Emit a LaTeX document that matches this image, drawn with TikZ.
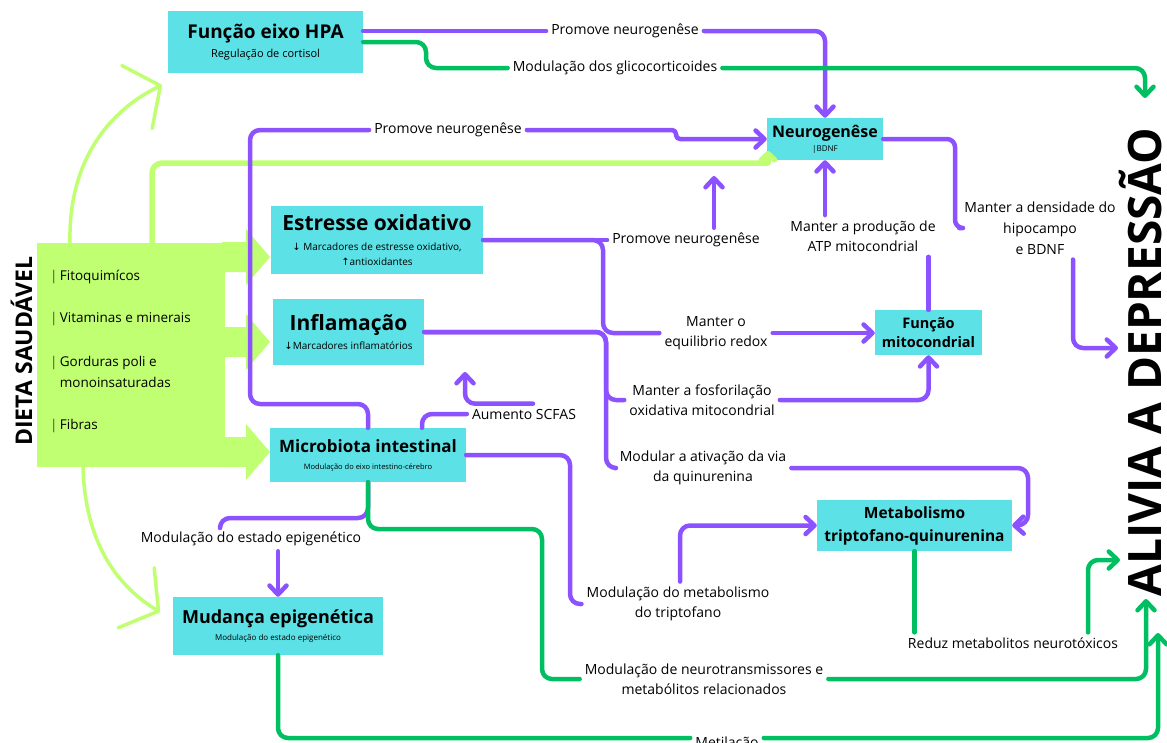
\documentclass[tikz,border=0pt]{standalone}
\usepackage{fontspec}
\setmainfont{Open Sans}
\newfontfamily\arrowfont{DejaVu Sans}
\usetikzlibrary{arrows.meta}

\definecolor{boxcyan}{HTML}{5CE1E6}
\definecolor{vio}{HTML}{8C52FF}
\definecolor{verde}{HTML}{00BF63}
\definecolor{lima}{HTML}{C1FF72}

\newcommand{\ttl}[2]{{\fontsize{#1}{#1}\selectfont\bfseries #2}}
\newcommand{\boxsub}[2]{{\fontsize{#1}{#1}\selectfont #2}}
\newcommand{\desce}{{\arrowfont\char"2193}}
\newcommand{\sobe}{{\arrowfont\char"2191}}
\newcommand{\barra}{{\color{black!70}|}\,}

\tikzset{
  box/.style={fill=boxcyan, inner sep=0pt, align=center},
  lbl/.style={fill=white, inner sep=5pt, align=center, font=\fontsize{14}{20.5}\selectfont},
  item/.style={anchor=west, inner sep=0pt, align=left, font=\fontsize{13.5}{21}\selectfont},
  conn/.style={line width=4.5pt, rounded corners=10pt, line cap=round, line join=round},
  roxo/.style={conn, draw=vio},
  verd/.style={conn, draw=verde},
  limao/.style={draw=lima, line cap=round, line join=round},
  >={Straight Barb[round,length=9pt,width=17pt]},
}

\begin{document}
\begin{tikzpicture}[x=1pt,y=-1pt]
\fill[white] (0,0) rectangle (1167,742);
\useasboundingbox (0,0) rectangle (1167,742);

% caixas
\node[box, minimum width=195, minimum height=62, font=\fontsize{10}{19}\selectfont] (hpa) at (265.5,42)
  {\ttl{19}{Função eixo HPA}\\\boxsub{11}{Regulação de cortisol}};
\node[box, minimum width=116, minimum height=42, font=\fontsize{8}{14}\selectfont] (neuro) at (825,139)
  {\ttl{16}{Neurogenêse}\\\boxsub{8}{|BDNF}};
\node[box, minimum width=212, minimum height=68, font=\fontsize{10}{15.5}\selectfont] (estresse) at (377,240)
  {\ttl{21}{Estresse oxidativo}\\[4.5pt]\boxsub{10}{\desce\ Marcadores de estresse oxidativo,}\\\boxsub{10}{\sobe antioxidantes}};
\node[box, minimum width=151, minimum height=66, font=\fontsize{10}{19}\selectfont] (inflam) at (348.5,332)
  {\ttl{21}{Inflamação}\\\boxsub{10}{\desce Marcadores inflamatórios}};
\node[box, minimum width=196, minimum height=54, font=\fontsize{8}{17}\selectfont] (micro) at (368,455)
  {\ttl{17}{Microbiota intestinal}\\\boxsub{7.5}{Modulação do eixo intestino-cérebro}};
\node[box, minimum width=210, minimum height=58, font=\fontsize{8}{16.5}\selectfont] (mudanca) at (278,626)
  {\ttl{18}{Mudança epigenética}\\\boxsub{8}{Modulação do estado epigenético}};
\node[box, minimum width=107, minimum height=45, font=\fontsize{10}{19}\selectfont] (mito) at (928.5,332.5)
  {\ttl{14.5}{Função}\\\ttl{14.5}{mitocondrial}};
\node[box, minimum width=195, minimum height=51, font=\fontsize{10}{23}\selectfont] (metab) at (914.5,525.5)
  {\ttl{15.5}{Metabolismo}\\\ttl{15.5}{triptofano-quinurenina}};

% dieta
\node[fill=lima, minimum width=188, minimum height=224, inner sep=0pt] (dieta) at (131,355) {};
\foreach \y in {257,342,452}
  \fill[lima] (222,\y-15) -- (246,\y-15) -- (246,\y-28) -- (270,\y) -- (246,\y+28) -- (246,\y+15) -- (222,\y+15) -- cycle;
\node[item] (fito) at (50,277) {\barra Fitoquimícos};
\node[item] (vita) at (50,319) {\barra Vitaminas e minerais};
\node[item] (gord) at (50,373) {\barra Gorduras poli e\\\phantom{\barra}monoinsaturadas};
\node[item] (fibr) at (50,426) {\barra Fibras};
\node[rotate=90, anchor=base, inner sep=0pt, font=\fontsize{23}{25}\selectfont\bfseries] (dietatit) at (32,351) {DIETA SAUDÁVEL};
\node[rotate=90, anchor=base, inner sep=0pt, font=\fontsize{46}{50}\selectfont\bfseries] (alivia) at (1161,362) {ALIVIA A DEPRESSÃO};

% rotulos
\node[lbl] (promA) at (625,31) {Promove neurogenêse};
\node[lbl] (glico) at (615,68) {Modulação dos glicocorticoides};
\node[lbl] (promB) at (448,130) {Promove neurogenêse};
\node[lbl] (promC) at (686,240) {Promove neurogenêse};
\node[lbl] (redox) at (716,333) {Manter o\\equilibrio redox};
\node[lbl] (fosfo) at (702,400) {Manter a fosforilação\\oxidativa mitocondrial};
\node[lbl] (quinu) at (703,468) {Modular a ativação da via\\da quinurenina};
\node[lbl] (atp) at (863,236) {Manter a produção de\\ATP mitocondrial};
\node[lbl, font=\fontsize{14}{21}\selectfont] (hipo) at (1040,228) {Manter a densidade do\\hipocampo\\e BDNF};
\node[lbl] (scfa) at (524,414) {Aumento SCFAS};
\node[lbl] (epig) at (251,539) {Modulação do estado epigenético};
\node[lbl] (tripto) at (678,604) {Modulação do metabolismo\\do triptofano};
\node[lbl] (neurot) at (704,679) {Modulação de neurotransmissores e\\metabólitos relacionados};
\node[lbl] (reduz) at (1013,643) {Reduz metabolitos neurotóxicos};
\node[lbl] (metil) at (727,744) {Metilação};

% pontas livres
\coordinate (upC) at (714,176);
\coordinate (scfaTip) at (465,372);
\coordinate (hpaTip) at (162,85);
\coordinate (mudTip) at (160,612);
\coordinate (aliviaG1) at (1145,98);
\coordinate (aliviaP) at (1118,348);
\coordinate (aliviaG2) at (1120,560);
\coordinate (aliviaG3) at (1146,599);
\coordinate (aliviaG4) at (1158,633);

% setas verde-limao da dieta
\draw[limao, line width=5.5pt, rounded corners=10pt, ->, >={Straight Barb[round,length=6pt,width=13pt]}]
  ([xshift=21]dieta.north) |- (758,163) .. controls (768,163) .. (768,151);
\draw[limao, line width=3.5pt, ->, >={Straight Barb[round,length=26pt,width=70pt]}]
  ([xshift=-61]dieta.north) .. controls (68,160) and (110,110) .. (hpaTip);
\draw[limao, line width=3.5pt, ->, >={Straight Barb[round,length=26pt,width=70pt]}]
  ([xshift=-48]dieta.south) .. controls (85,540) and (115,585) .. (mudTip);

% eixo HPA
\draw[roxo] (hpa.east |- promA) -- (promA.west);
\draw[roxo,->] (promA.east) -| (neuro.north);
\draw[verd] (hpa.east) -- (426,42) -- (426,68) -- (glico.west);
\draw[verd,->] (glico.east) -| (aliviaG1);

% microbiota -> neurogenese
\draw[roxo] (micro.north) |- (250,404) |- (promB.west);
\draw[roxo,->,rounded corners=4pt] (promB.east) -- (676,130) -- (676,139) -- (neuro.west);

% estresse oxidativo
\draw[roxo] (estresse.east) -- (estresse.east -| promC.west);
\draw[roxo] (estresse.east) -| (603,333) -- (redox.west);
\draw[roxo,->] ([xshift=28]promC.north) -- (upC);
\draw[roxo,->] (redox.east) -- (redox.east -| mito.west);

% inflamacao
\draw[roxo] (inflam.east) -| (606,400) -- (fosfo.west);
\draw[roxo] (inflam.east) -| (606,468) -- (quinu.west);
\draw[roxo,->] (fosfo.east) -| (mito.south);
\draw[roxo,->] (quinu.east) -| (1028,525) -- (metab.east);

% mitocondria e neurogenese
\draw[roxo] (mito.north) -- (mito.north |- atp.south);
\draw[roxo,->] ([xshift=-38]atp.north) -- (neuro.south);
\draw[roxo,rounded corners=8pt] (neuro.east) -| (955,228) -- (hipo.west);
\draw[roxo,->] ([xshift=33]hipo.south) |- (aliviaP);

% microbiota
\draw[roxo] (micro.east) -| (570,604) -- (tripto.west);
\draw[roxo,->] ([xshift=2]tripto.north) |- (metab.west);
\draw[roxo] ([xshift=54]micro.north) |- (scfa.west);
\draw[roxo,->] ([xshift=9]scfa.north) -| (scfaTip);
\draw[roxo] (micro.south) |- (220,518) -- ([xshift=-31]epig.north);
\draw[roxo,->] (epig.south -| mudanca.north) -- (mudanca.north);
\draw[verd] (micro.south) |- (542,529) |- (neurot.west);
\draw[verd,->] (neurot.east) -| (aliviaG3);

% triptofano-quinurenina
\draw[verd] (metab.south) -- (metab.south |- reduz.north);
\draw[verd,->] ([xshift=75]reduz.north) |- (aliviaG2);

% epigenetica
\draw[verd] (mudanca.south) |- ([yshift=6]metil.west);
\draw[verd,->] ([yshift=6]metil.east) -| (aliviaG4);
\end{tikzpicture}
\end{document}
